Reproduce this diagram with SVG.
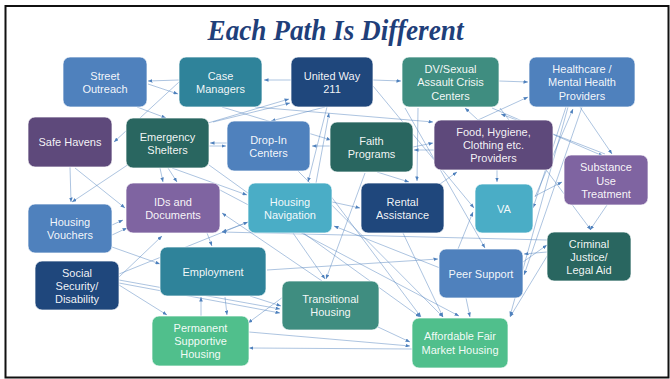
<svg xmlns="http://www.w3.org/2000/svg" width="670" height="379" viewBox="0 0 670 379">
  <defs>
    <marker id="arrow" viewBox="0 0 5 4" refX="5" refY="2" markerWidth="4.5" markerHeight="3.6" markerUnits="userSpaceOnUse" orient="auto">
      <path d="M0,0 L5,2 L0,4 z" fill="#4F81BD"/>
    </marker>
    <style>
      .frame { fill: #ffffff; stroke: #111111; stroke-width: 2; }
      .title { font-family: "Liberation Serif", "DejaVu Serif", serif; font-weight: bold; font-style: italic; font-size: 29px; fill: #1F3F7A; }
      .links path { fill: none; stroke: #4F81BD; stroke-width: 0.65; stroke-opacity: 0.72; marker-end: url(#arrow); }
      .node rect { rx: 7; ry: 7; stroke: #ffffff; stroke-opacity: 0.7; stroke-width: 1; }
      .node text { font-family: "Liberation Sans", Arial, sans-serif; font-size: 11px; fill: #ffffff; fill-opacity: 0.95; text-anchor: middle; }
      .blue { fill: #4F81BD; }
      .teal { fill: #2F839A; }
      .navy { fill: #1F477C; }
      .seagreen { fill: #3F8D80; }
      .darkteal { fill: #296660; }
      .plum { fill: #5E497B; }
      .purple { fill: #7F64A1; }
      .aqua { fill: #4AADC6; }
      .green { fill: #50BF8C; }
    </style>
  </defs>

  <!-- slide frame -->
  <rect class="frame" x="5.5" y="6" width="663" height="371.5"/>

  <text class="title" x="335.5" y="40" text-anchor="middle" textLength="256" lengthAdjust="spacingAndGlyphs">Each Path Is Different</text>

  <!-- connectors -->
  <g id="connectors" class="links">
    <path d="M291,80 L264,80"/>
    <path d="M179,80 L148,81"/>
    <path d="M148,84 L178,94"/>
    <path d="M179,82 L114,142"/>
    <path d="M137,107 L166,118"/>
    <path d="M208,123 L289,99"/>
    <path d="M213,122 L290,103"/>
    <path d="M325,107 L271,121"/>
    <path d="M227,143 L210,143"/>
    <path d="M209,146 L226,146"/>
    <path d="M330,146 L312,146"/>
    <path d="M327,107 L308,182"/>
    <path d="M316,183 L329,113"/>
    <path d="M373,80 L401,81"/>
    <path d="M499,81 L528,82"/>
    <path d="M373,86 L474,208"/>
    <path d="M255,107 L433,122"/>
    <path d="M222,107 L331,140"/>
    <path d="M418,108 L417,181"/>
    <path d="M377,172 L409,182"/>
    <path d="M478,120 L465,108"/>
    <path d="M478,120 L528,97"/>
    <path d="M492,108 L603,156"/>
    <path d="M605,154 L501,114"/>
    <path d="M580,107 L612,154"/>
    <path d="M566,107 L533,208"/>
    <path d="M535,197 L573,109"/>
    <path d="M582,107 L524,275"/>
    <path d="M568,107 L510,316"/>
    <path d="M535,196 L562,182"/>
    <path d="M607,205 L590,230"/>
    <path d="M500,108 L591,230"/>
    <path d="M497,170 L497,182"/>
    <path d="M440,184 L457,172"/>
    <path d="M458,249 L473,212"/>
    <path d="M405,108 L485,248"/>
    <path d="M332,202 L360,208"/>
    <path d="M330,195 L421,317"/>
    <path d="M209,165 L420,317"/>
    <path d="M298,171 L443,317"/>
    <path d="M403,233 L443,317"/>
    <path d="M220,190 L459,316"/>
    <path d="M466,298 L470,317"/>
    <path d="M552,248 L510,317"/>
    <path d="M440,268 L334,226"/>
    <path d="M267,270 L438,259"/>
    <path d="M547,240 L222,232"/>
    <path d="M547,252 L524,254"/>
    <path d="M523,262 L547,245"/>
    <path d="M378,327 L410,342"/>
    <path d="M249,332 L410,346"/>
    <path d="M412,349 L249,348"/>
    <path d="M201,316 L201,297"/>
    <path d="M225,297 L227,315"/>
    <path d="M119,280 L280,309"/>
    <path d="M119,283 L280,313"/>
    <path d="M250,296 L281,306"/>
    <path d="M283,297 L248,323"/>
    <path d="M293,233 L325,279"/>
    <path d="M365,173 L326,279"/>
    <path d="M322,281 L222,213"/>
    <path d="M70,167 L71,202"/>
    <path d="M147,152 L72,202"/>
    <path d="M75,168 L125,208"/>
    <path d="M112,225 L123,220"/>
    <path d="M112,235 L127,228"/>
    <path d="M112,247 L160,264"/>
    <path d="M119,277 L162,236"/>
    <path d="M119,274 L248,222"/>
    <path d="M119,285 L167,315"/>
    <path d="M207,233 L212,246"/>
    <path d="M160,168 L163,182"/>
    <path d="M168,168 L177,182"/>
    <path d="M172,168 L247,195"/>
    <path d="M248,222 L222,232"/>
    <path d="M413,147 L433,143"/>
    <path d="M434,150 L414,150"/>
  </g>

  <!-- service nodes -->
  <g id="street-outreach" class="node"><rect class="blue" x="63" y="57" width="84" height="50"/><text x="105" y="79.5">Street</text><text x="105" y="92.5">Outreach</text></g>
  <g id="case-managers" class="node"><rect class="teal" x="179" y="57" width="83" height="50"/><text x="220.5" y="79.5">Case</text><text x="220.5" y="92.5">Managers</text></g>
  <g id="united-way" class="node"><rect class="navy" x="291" y="57" width="82" height="50"/><text x="332" y="79.5">United Way</text><text x="332" y="92.5">211</text></g>
  <g id="dv-centers" class="node"><rect class="seagreen" x="402" y="57" width="97" height="50"/><text x="450.5" y="72.5">DV/Sexual</text><text x="450.5" y="86">Assault Crisis</text><text x="450.5" y="99.5">Centers</text></g>
  <g id="healthcare" class="node"><rect class="blue" x="529" y="57" width="106" height="50"/><text x="582" y="72.5">Healthcare /</text><text x="582" y="86">Mental Health</text><text x="582" y="99.5">Providers</text></g>
  <g id="safe-havens" class="node"><rect class="plum" x="28" y="117" width="84" height="50"/><text x="70" y="146">Safe Havens</text></g>
  <g id="emergency-shelters" class="node"><rect class="darkteal" x="126" y="118" width="83" height="50"/><text x="167.5" y="140.5">Emergency</text><text x="167.5" y="153.5">Shelters</text></g>
  <g id="drop-in" class="node"><rect class="blue" x="227" y="121" width="83" height="50"/><text x="268.5" y="143.5">Drop-In</text><text x="268.5" y="156.5">Centers</text></g>
  <g id="faith-programs" class="node"><rect class="darkteal" x="330" y="122" width="83" height="50"/><text x="371.5" y="144.5">Faith</text><text x="371.5" y="157.5">Programs</text></g>
  <g id="food-providers" class="node"><rect class="plum" x="434" y="120" width="119" height="50"/><text x="493.5" y="136">Food, Hygiene,</text><text x="493.5" y="149">Clothing etc.</text><text x="493.5" y="162">Providers</text></g>
  <g id="substance-use" class="node"><rect class="purple" x="564" y="155" width="84" height="50"/><text x="606" y="171">Substance</text><text x="606" y="184.5">Use</text><text x="606" y="198">Treatment</text></g>
  <g id="ids-documents" class="node"><rect class="purple" x="126" y="183" width="94" height="50"/><text x="173" y="205.5">IDs and</text><text x="173" y="218.5">Documents</text></g>
  <g id="housing-navigation" class="node"><rect class="aqua" x="248" y="183" width="84" height="50"/><text x="290" y="205.5">Housing</text><text x="290" y="218.5">Navigation</text></g>
  <g id="rental-assistance" class="node"><rect class="navy" x="361" y="183" width="83" height="50"/><text x="402.5" y="205.5">Rental</text><text x="402.5" y="218.5">Assistance</text></g>
  <g id="va" class="node"><rect class="aqua" x="475" y="184" width="58" height="49"/><text x="504" y="212.5">VA</text></g>
  <g id="housing-vouchers" class="node"><rect class="blue" x="28" y="204" width="84" height="49"/><text x="70" y="226">Housing</text><text x="70" y="239">Vouchers</text></g>
  <g id="criminal-justice" class="node"><rect class="darkteal" x="547" y="232" width="84" height="49"/><text x="589" y="247.5">Criminal</text><text x="589" y="260.5">Justice/</text><text x="589" y="273.5">Legal Aid</text></g>
  <g id="social-security" class="node"><rect class="navy" x="35" y="261" width="84" height="49"/><text x="77" y="276.5">Social</text><text x="77" y="289.5">Security/</text><text x="77" y="302.5">Disability</text></g>
  <g id="employment" class="node"><rect class="teal" x="160" y="247" width="106" height="49"/><text x="213" y="275.5">Employment</text></g>
  <g id="peer-support" class="node"><rect class="blue" x="439" y="249" width="84" height="49"/><text x="481" y="277.5">Peer Support</text></g>
  <g id="transitional-housing" class="node"><rect class="seagreen" x="282" y="281" width="97" height="49"/><text x="330.5" y="303">Transitional</text><text x="330.5" y="316">Housing</text></g>
  <g id="permanent-supportive" class="node"><rect class="green" x="152" y="316" width="97" height="50"/><text x="200.5" y="332">Permanent</text><text x="200.5" y="345">Supportive</text><text x="200.5" y="358">Housing</text></g>
  <g id="affordable-housing" class="node"><rect class="green" x="412" y="318" width="96" height="50"/><text x="460" y="340">Affordable Fair</text><text x="460" y="354">Market Housing</text></g>
</svg>
